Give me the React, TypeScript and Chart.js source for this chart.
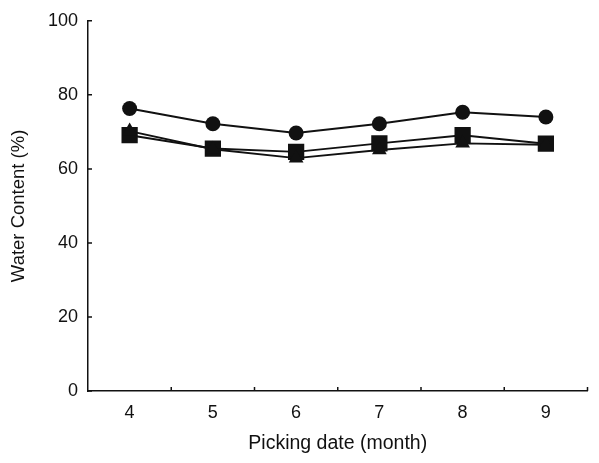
import React, { useEffect, useRef } from "react";
import { Chart, registerables } from "chart.js";

Chart.register(...registerables);

const months = ["4", "5", "6", "7", "8", "9"];
const circleSeries = [76.3, 72.2, 69.7, 72.2, 75.3, 74.0];
const squareSeries = [69.1, 65.5, 64.6, 66.9, 69.1, 66.8];
const triangleSeries = [70.2, 65.3, 62.9, 65.1, 66.9, 66.5];
const yTicks = [0, 20, 40, 60, 80, 100];

const FONT = "'Liberation Sans', Arial, Helvetica, sans-serif";

const innerTicks = {
  id: "innerTicks",
  afterDatasetsDraw(chart: any) {
    const ctx = chart.ctx;
    const x = chart.scales.x;
    const y = chart.scales.y;
    const area = chart.chartArea;
    ctx.save();
    ctx.strokeStyle = "#111";
    ctx.lineWidth = 1.5;
    ctx.beginPath();
    yTicks.forEach((v) => {
      const py = y.getPixelForValue(v);
      ctx.moveTo(area.left, py);
      ctx.lineTo(area.left + 4, py);
    });
    for (let i = 0; i < months.length; i++) {
      const px = x.getPixelForValue(i) + (x.getPixelForValue(1) - x.getPixelForValue(0)) / 2;
      ctx.moveTo(px, area.bottom);
      ctx.lineTo(px, area.bottom - 4);
    }
    ctx.stroke();
    ctx.restore();
  },
};

export default function App() {
  const ref = useRef<HTMLCanvasElement | null>(null);
  useEffect(() => {
    document.body.style.margin = "0";
    const common = {
      borderColor: "#111",
      backgroundColor: "#111",
      borderWidth: 1.9,
      pointBorderWidth: 0,
      tension: 0,
    };
    const chart = new Chart(ref.current!, {
      type: "line",
      data: {
        labels: months,
        datasets: [
          { ...common, label: "A", data: circleSeries, pointStyle: "circle", pointRadius: 7.5 },
          { ...common, label: "C", data: triangleSeries, pointStyle: "triangle", pointRadius: 8.5 },
          { ...common, label: "B", data: squareSeries, pointStyle: "rect", pointRadius: 11.5 },
        ],
      },
      options: {
        animation: false,
        responsive: false,
        devicePixelRatio: 1,
        layout: { padding: { top: 19, right: 2, left: 0, bottom: 0 } },
        plugins: { legend: { display: false }, tooltip: { enabled: false } },
        scales: {
          x: {
            offset: true,
            grid: { display: true, drawOnChartArea: false, drawTicks: false, offset: true },
            border: { display: true, color: "#111", width: 1.5 },
            ticks: { color: "#111", padding: 11, font: { family: FONT, size: 18 } },
            title: {
              display: true,
              text: "Picking date (month)",
              color: "#111",
              font: { family: FONT, size: 19.5 },
              padding: { top: 8, bottom: 8 },
            },
            afterFit: (s: any) => {
              s.height = 72;
            },
          },
          y: {
            min: 0,
            max: 100,
            afterBuildTicks: (s: any) => {
              s.ticks = yTicks.map((v) => ({ value: v }));
            },
            grid: { display: true, drawOnChartArea: false, drawTicks: false },
            border: { display: true, color: "#111", width: 1.5 },
            ticks: { color: "#111", padding: 10, font: { family: FONT, size: 18 } },
            title: {
              display: true,
              text: "Water Content (%)",
              color: "#111",
              font: { family: FONT, size: 18.5 },
              padding: { top: 8, bottom: 8 },
            },
            afterFit: (s: any) => {
              s.width = 88;
            },
          },
        },
      },
      plugins: [innerTicks],
    });
    return () => chart.destroy();
  }, []);
  return <canvas ref={ref} width={599} height={463} style={{ display: "block" }} />;
}
